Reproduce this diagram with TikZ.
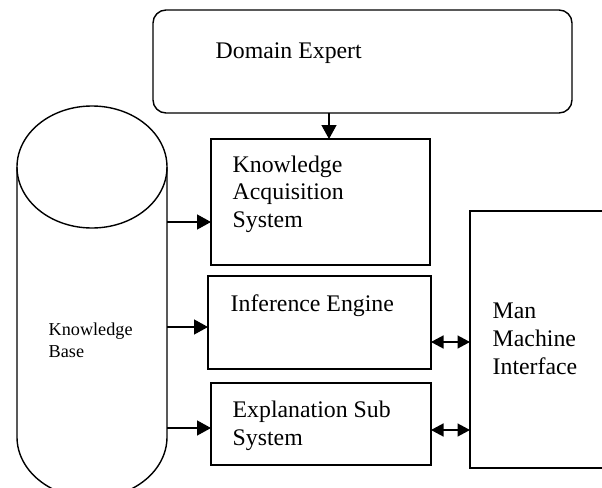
\documentclass[tikz,border=0pt]{standalone}
\usepackage{fontspec}
\setmainfont{Liberation Serif}
\usetikzlibrary{arrows.meta}
\begin{document}
\begin{tikzpicture}[x=1pt,y=-1pt,line width=1.4pt,
  box/.style={draw,rectangle,anchor=north west,inner sep=0pt,outer sep=0pt},
  big/.style={font=\fontsize{23.8}{27.6}\selectfont,inner sep=0pt,anchor=base west},
  small/.style={font=\fontsize{18.2}{21}\selectfont,inner sep=0pt,anchor=base west},
  arr/.style={-{Triangle[length=14pt,width=15pt]}},
  dbl/.style={{Triangle[length=12.5pt,width=13pt]}-{Triangle[length=12.5pt,width=13pt]}}]
\useasboundingbox (0,0) rectangle (602,487);
\clip (0,0) rectangle (602,487);
% boxes
\node[box,rounded corners=13pt,minimum width=419pt,minimum height=103pt] (de) at (153,10) {};
\node[box,minimum width=219pt,minimum height=126pt] (kas) at (211,139) {};
\node[box,minimum width=223pt,minimum height=93pt] (ie) at (208,276) {};
\node[box,minimum width=220pt,minimum height=82pt] (es) at (211,383) {};
\node[box,minimum width=170pt,minimum height=257pt] (mmi) at (470,211) {};
% cylinder
\node[inner sep=0pt,outer sep=0pt,minimum width=150pt,minimum height=270pt,anchor=north west] (kb) at (17,167) {};
\draw (kb.north west) -- (kb.south west) arc[start angle=180,end angle=360,x radius=75pt,y radius=61pt] -- (kb.north east);
\draw (kb.north) ellipse[x radius=75pt,y radius=61pt];
% texts
\node[big] (t1) at (215,59) {Domain Expert};
\node[big] (t2) at (232,172) {Knowledge};
\node[big] (t3) at (232,199.5) {Acquisition};
\node[big] (t4) at (232,227) {System};
\node[big] (t5) at (230,311) {Inference Engine};
\node[big] (t6) at (232,417) {Explanation Sub};
\node[big] (t7) at (232,445) {System};
\node[big] (t8) at (492,318) {Man};
\node[big] (t9) at (492,346) {Machine};
\node[big] (t10) at (492,374) {Interface};
\node[small] (t11) at (48,335) {Knowledge};
\node[small] (t12) at (48,357) {Base};
% connectors
\coordinate (d1) at (329,0);
\coordinate (r1) at (0,222);
\coordinate (r2) at (0,327);
\coordinate (r3) at (0,428);
\coordinate (r4) at (0,342);
\coordinate (r5) at (0,430);
\draw[arr] (de.south -| d1) -- (kas.north -| d1);
\draw[arr] (kb.east |- r1) -- (kas.west |- r1);
\draw[arr] (kb.east |- r2) -- (ie.west |- r2);
\draw[arr] (kb.east |- r3) -- (es.west |- r3);
\draw[dbl] (ie.east |- r4) -- (mmi.west |- r4);
\draw[dbl] (es.east |- r5) -- (mmi.west |- r5);
\end{tikzpicture}
\end{document}
